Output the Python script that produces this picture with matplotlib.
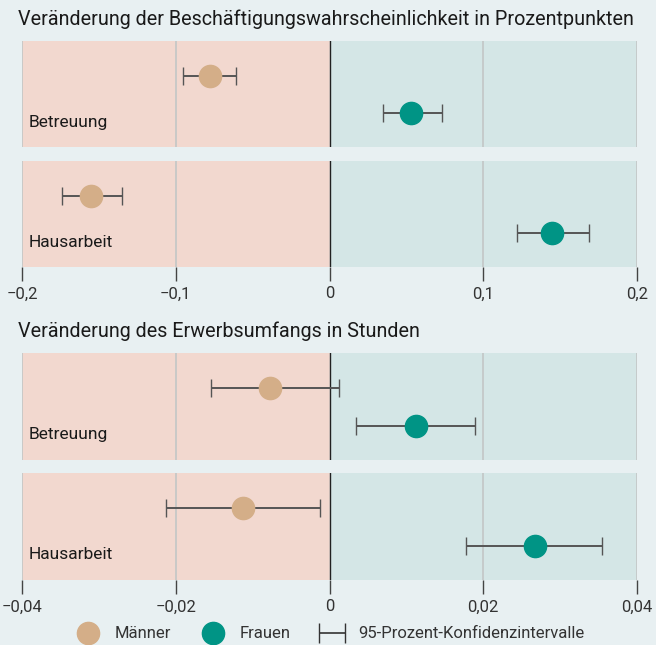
import matplotlib.pyplot as plt
import matplotlib
from matplotlib.lines import Line2D
from matplotlib.legend_handler import HandlerErrorbar
from matplotlib.container import ErrorbarContainer

matplotlib.rcParams['font.family'] = ['Roboto', 'DejaVu Sans']

# Daten
kategorien = ['Betreuung', 'Hausarbeit']

# Beschäftigungswahrscheinlichkeit (Prozentpunkte)
p_maenner = [-0.078, -0.155]
p_maenner_lo = [-0.095, -0.174]
p_maenner_hi = [-0.061, -0.135]
p_frauen = [0.053, 0.145]
p_frauen_lo = [0.035, 0.122]
p_frauen_hi = [0.073, 0.169]

# Erwerbsumfang (Stunden)
h_maenner = [-0.0077, -0.0112]
h_maenner_lo = [-0.0154, -0.0213]
h_maenner_hi = [0.0013, -0.0012]
h_frauen = [0.0112, 0.0267]
h_frauen_lo = [0.0035, 0.0178]
h_frauen_hi = [0.0189, 0.0355]

p_ticks = [-0.2, -0.1, 0, 0.1, 0.2]
p_ticklabels = ['\u22120,2', '\u22120,1', '0', '0,1', '0,2']
h_ticks = [-0.04, -0.02, 0, 0.02, 0.04]
h_ticklabels = ['\u22120,04', '\u22120,02', '0', '0,02', '0,04']

titel = ['Veränderung der Beschäftigungswahrscheinlichkeit in Prozentpunkten',
         'Veränderung des Erwerbsumfangs in Stunden']

# Farben
bg = '#e8f0f2'
rosa = '#f2d8cf'
tuerkis = '#d4e6e6'
c_m = '#d4ae88'
c_f = '#009485'
c_err = '#555555'
c_grid = '#c2c6c6'

fig = plt.figure(figsize=(6.56, 6.45), dpi=100, facecolor=bg)

left, width = 22 / 656, 615 / 656
panels = [(41, 147), (161, 267), (353, 460), (473, 580)]

sections = [
    (p_ticks, p_ticklabels, p_maenner, p_maenner_lo, p_maenner_hi, p_frauen, p_frauen_lo, p_frauen_hi),
    (h_ticks, h_ticklabels, h_maenner, h_maenner_lo, h_maenner_hi, h_frauen, h_frauen_lo, h_frauen_hi),
]

y_m, y_f = 0.67, 0.32

for s, (ticks, labels, m, mlo, mhi, f, flo, fhi) in enumerate(sections):
    for k, kat in enumerate(kategorien):
        top, bot = panels[s * 2 + k]
        ax = fig.add_axes([left, 1 - bot / 645, width, (bot - top) / 645])
        lim = ticks[-1]
        ax.set_xlim(ticks[0], lim)
        ax.set_ylim(0, 1)
        ax.axvspan(ticks[0], 0, color=rosa, zorder=0)
        ax.axvspan(0, lim, color=tuerkis, zorder=0)
        for t in ticks:
            if t == 0:
                ax.axvline(t, color='#222222', lw=1.0, zorder=1)
            else:
                ax.axvline(t, color=c_grid, lw=1.2, zorder=1)
        ax.errorbar(m[k], y_m, xerr=[[m[k] - mlo[k]], [mhi[k] - m[k]]], fmt='o',
                    color=c_m, ms=16, ecolor=c_err, elinewidth=1.4, capsize=6.5,
                    capthick=1.0, zorder=3)
        ax.errorbar(f[k], y_f, xerr=[[f[k] - flo[k]], [fhi[k] - f[k]]], fmt='o',
                    color=c_f, ms=16, ecolor=c_err, elinewidth=1.4, capsize=6.5,
                    capthick=1.0, zorder=3)
        ax.text(0.011, 0.235, kat, transform=ax.transAxes, fontsize=12.5,
                color='#1a1a1a', va='center', ha='left')
        for sp in ax.spines.values():
            sp.set_visible(False)
        ax.set_yticks([])
        if k == 1:
            ax.set_xticks(ticks)
            ax.set_xticklabels(labels, fontsize=12, color='#333333')
            ax.tick_params(axis='x', length=10, width=1.0, color='#444444', pad=4)
        else:
            ax.set_xticks([])

    fig.text(18 / 656, 1 - (19 if s == 0 else 331) / 645, titel[s], fontsize=14.2,
             color='#1a1a1a', va='center', ha='left')

# Legende
h_m = Line2D([], [], marker='o', ls='none', color=c_m, ms=16)
h_f = Line2D([], [], marker='o', ls='none', color=c_f, ms=16)
tmp_ax = fig.add_axes([0, 0, 0.01, 0.01])
tmp_ax.set_visible(False)
h_ci = tmp_ax.errorbar([0], [0], xerr=[[1]], fmt='none', ecolor='#333333',
                       elinewidth=1.2, capsize=7)
fig.legend([h_m, h_f, h_ci], ['Männer', 'Frauen', '95-Prozent-Konfidenzintervalle'],
           loc='center', bbox_to_anchor=(0.5, 1 - 634 / 645), ncol=3, frameon=False,
           fontsize=12, handlelength=2.0, columnspacing=1.5, handletextpad=0.6,
           labelcolor='#333333',
           handler_map={ErrorbarContainer: HandlerErrorbar(xerr_size=0.8)})

plt.savefig('out.png', dpi=100, facecolor=bg)
